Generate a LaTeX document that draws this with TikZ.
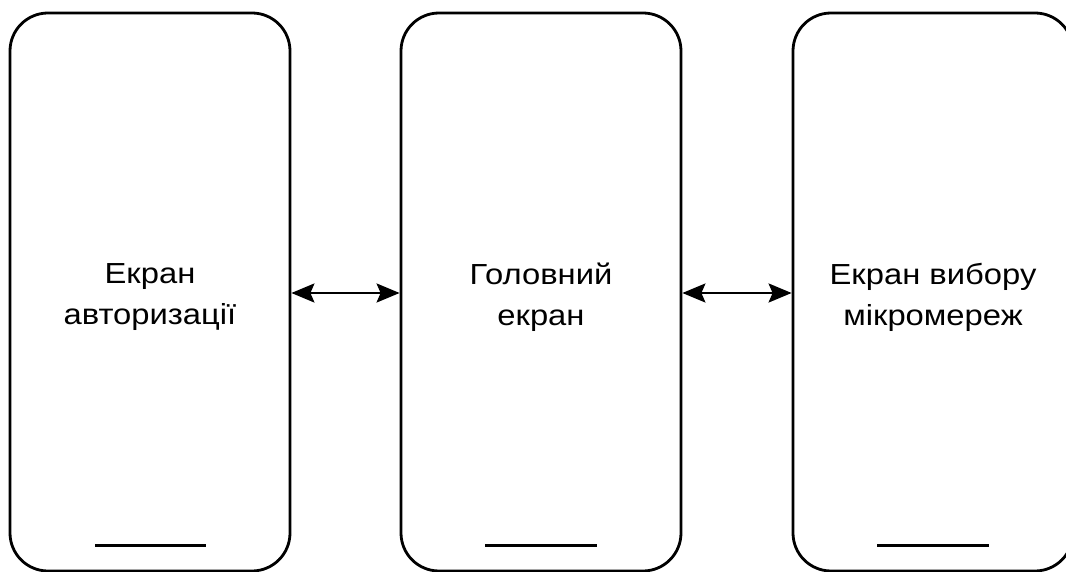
\documentclass[tikz,border=0pt]{standalone}
\usepackage{fontspec}
\setmainfont{Liberation Sans}[FakeStretch=1.13]
\usetikzlibrary{arrows.meta}
\begin{document}
\begin{tikzpicture}[x=1pt,y=-1pt,
  phone/.style={draw=black, line width=2.8pt, rounded corners=38pt, fill=white},
  homebar/.style={draw=black, line width=3pt},
  screenlabel/.style={align=center, font=\fontsize{29}{41}\selectfont, inner sep=0pt},
  link/.style={line width=2.4pt, {Stealth[length=23pt,width=19pt,inset=4pt]}-{Stealth[length=23pt,width=19pt,inset=4pt]}}]
  \useasboundingbox (0,0) rectangle (1066,572);

  % phone frames
  \node[phone, minimum width=280pt, minimum height=558pt, inner sep=0pt] (p1) at (150,292) {};
  \node[phone, minimum width=280pt, minimum height=558pt, inner sep=0pt] (p2) at (541,292) {};
  \node[phone, minimum width=280pt, minimum height=558pt, inner sep=0pt] (p3) at (933,292) {};

  % home indicator bars
  \draw[homebar] (95,545) -- (206,545);
  \draw[homebar] (485,545) -- (597,545);
  \draw[homebar] (877,545) -- (989,545);

  % screen names
  \node[screenlabel] (t1) at (150,297) {Екран\\авторизації};
  \node[screenlabel] (t2) at (541,297) {Головний\\екран};
  \node[screenlabel] (t3) at (933,297) {Екран вибору\\мікромереж};

  % navigation between screens
  \coordinate (a1) at (p1.east |- 0,293);
  \coordinate (a2) at (p2.west |- 0,293);
  \coordinate (a3) at (p2.east |- 0,293);
  \coordinate (a4) at (p3.west |- 0,293);
  \draw[link] (a1) -- (a2);
  \draw[link] (a3) -- (a4);
\end{tikzpicture}
\end{document}
